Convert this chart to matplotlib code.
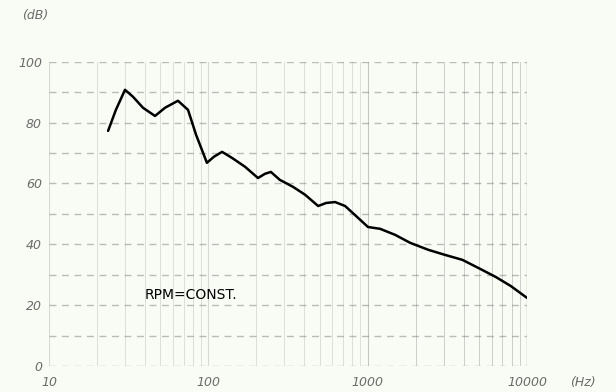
import numpy as np
import matplotlib
matplotlib.use("Agg")
import matplotlib.pyplot as plt

# Sound level vs frequency at constant RPM
freq_hz = [23.5, 26.3, 30, 33.7, 38.9, 46.3, 53.5, 64.5, 74.6, 83.8, 98, 108.5,
           122, 141, 170, 205, 227, 247, 281, 340, 405, 489, 549, 625, 722, 871,
           1005, 1198, 1490, 1848, 2401, 3073, 3931, 4967, 6356, 7910, 10000]
level_db = [77.3, 84.2, 90.8, 88.5, 84.9, 82.2, 84.9, 87.2, 84.2, 76.0, 66.8, 68.8,
            70.4, 68.4, 65.5, 61.8, 63.2, 63.8, 61.2, 58.9, 56.3, 52.6, 53.6, 53.9,
            52.6, 48.7, 45.7, 45.1, 43.1, 40.5, 38.2, 36.5, 34.9, 32.2, 29.3, 26.3, 22.4]

x_ticks = [10, 100, 1000, 10000]
x_tick_labels = ["10", "100", "1000", "10000"]
y_ticks = [0, 20, 40, 60, 80, 100]
y_tick_labels = ["0", "20", "40", "60", "80", "100"]

bg = "#f9fcf4"
label_color = "#6b6b6b"
grid_color = "#9a9a9a"

fig = plt.figure(figsize=(6.16, 3.92), dpi=100, facecolor=bg)
ax = fig.add_axes([0.0795, 0.0663, 0.776, 0.776], facecolor=bg)
ax.set_xscale("log")
ax.set_xlim(10, 10000)
ax.set_ylim(0, 100)

# vertical grid: decades and sub-decades
for dec in [10, 100, 1000]:
    for m in range(1, 10):
        xv = dec * m
        ax.axvline(xv, color=grid_color, lw=0.8 if m == 1 else 0.6,
                   alpha=0.35 if dec < 1000 else 0.55, zorder=1)
ax.axvline(10000, color=grid_color, lw=1.0, alpha=0.7, zorder=1)

# horizontal dashed grid every 10 dB
for yv in range(0, 101, 10):
    ax.axhline(yv, color="#707070", lw=1.0, ls=(0, (5, 4)), alpha=0.45, zorder=1)

ax.plot(freq_hz, level_db, color="black", lw=1.8, zorder=3,
        solid_joinstyle="round", solid_capstyle="round")

ax.set_xticks(x_ticks)
ax.set_xticklabels(x_tick_labels)
ax.set_yticks(y_ticks)
ax.set_yticklabels(y_tick_labels)
ax.xaxis.set_minor_locator(matplotlib.ticker.NullLocator())
ax.tick_params(axis="both", length=0, colors=label_color, labelsize=9)
ax.tick_params(axis="x", pad=7)
ax.tick_params(axis="y", pad=5)
for lbl in ax.get_xticklabels() + ax.get_yticklabels():
    lbl.set_fontstyle("italic")
for s in ax.spines.values():
    s.set_visible(False)

ax.text(40, 23.5, "RPM=CONST.", fontsize=10, color="black", va="center", ha="left",
        zorder=4)
fig.text(0.035, 0.96, "(dB)", fontsize=9, color=label_color, style="italic",
         ha="left", va="center")
fig.text(0.925, 0.025, "(Hz)", fontsize=9, color=label_color, style="italic",
         ha="left", va="center")

fig.savefig("out.png", dpi=100, facecolor=bg)
